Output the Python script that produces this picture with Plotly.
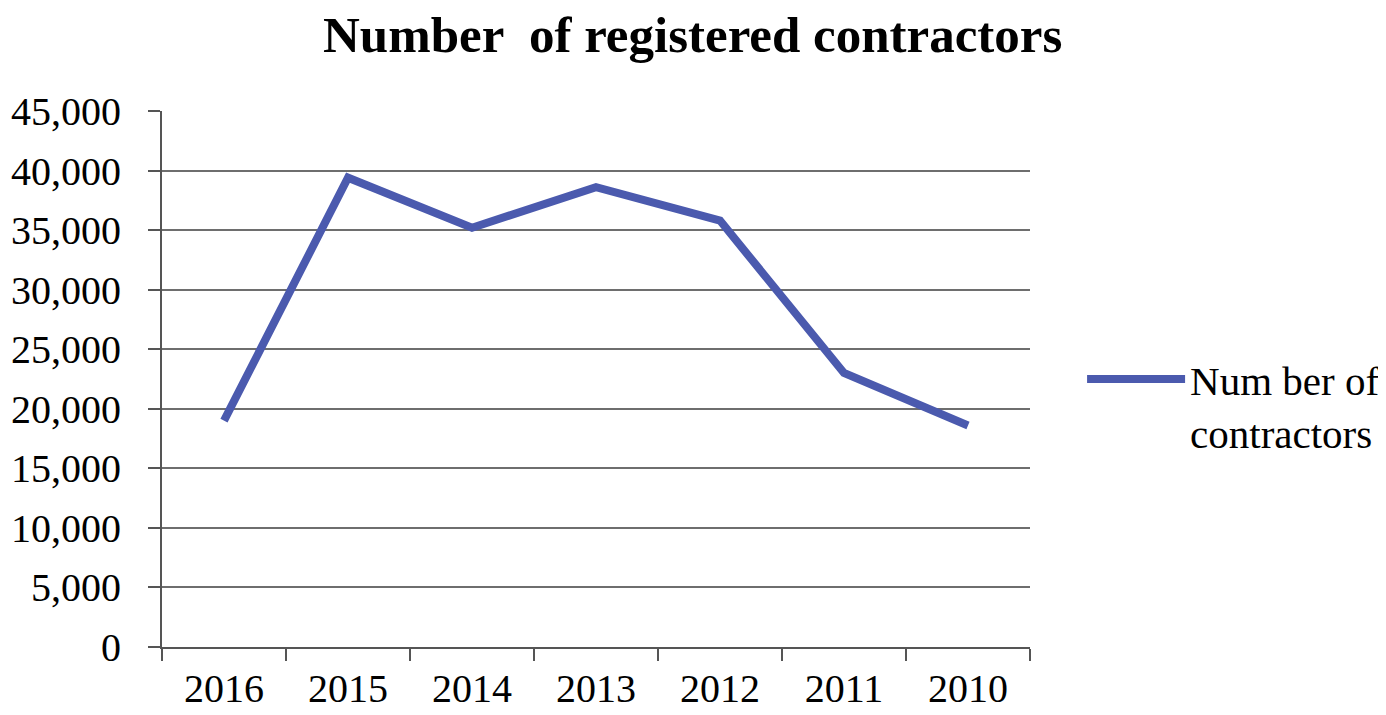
import plotly.graph_objects as go

years = ["2016", "2015", "2014", "2013", "2012", "2011", "2010"]
contractors = [19000, 39400, 35200, 38600, 35800, 23000, 18600]
y_ticks = [0, 5000, 10000, 15000, 20000, 25000, 30000, 35000, 40000, 45000]
y_labels = ["0", "5,000", "10,000", "15,000", "20,000", "25,000", "30,000", "35,000", "40,000", "45,000"]

SERIF = "Liberation Serif, Times New Roman, serif"

fig = go.Figure()
fig.add_trace(go.Scatter(
    x=years, y=contractors, mode="lines",
    name="Num ber of<br>contractors",
    line=dict(color="#4B5AAE", width=8),
))

fig.update_layout(
    width=1386, height=715,
    paper_bgcolor="white", plot_bgcolor="white",
    margin=dict(l=154, r=364, t=103, b=76, autoexpand=False),
    title=dict(text="<b>Number  of registered contractors</b>", x=0.494, xref="container",
               y=0.964, yref="container", yanchor="middle",
               font=dict(family=SERIF, size=51, color="black")),
    font=dict(family=SERIF, color="black"),
    showlegend=True,
    legend=dict(x=1.06, xanchor="left", y=0.45, yanchor="middle", valign="top",
                font=dict(family=SERIF, size=41, color="black"),
                itemwidth=98, bgcolor="rgba(0,0,0,0)"),
)

fig.update_xaxes(
    type="category", tickson="boundaries", ticks="outside", ticklen=12,
    tickcolor="#555555", tickwidth=2, showline=True, linecolor="#555555", linewidth=2,
    showgrid=False, tickfont=dict(family=SERIF, size=40, color="black"),
    ticklabelstandoff=5, automargin=False,
    range=[-0.5, 6.5],
)
fig.update_yaxes(
    range=[0, 45000], tickvals=y_ticks, ticktext=y_labels,
    ticks="outside", ticklen=12, tickcolor="#555555", tickwidth=2,
    showline=True, linecolor="#555555", linewidth=2,
    showgrid=True, gridcolor="#6e6e6e", gridwidth=2, zeroline=False,
    ticklabelstandoff=19, automargin=False,
    tickfont=dict(family=SERIF, size=40, color="black"),
)

fig.write_html("out.html")
